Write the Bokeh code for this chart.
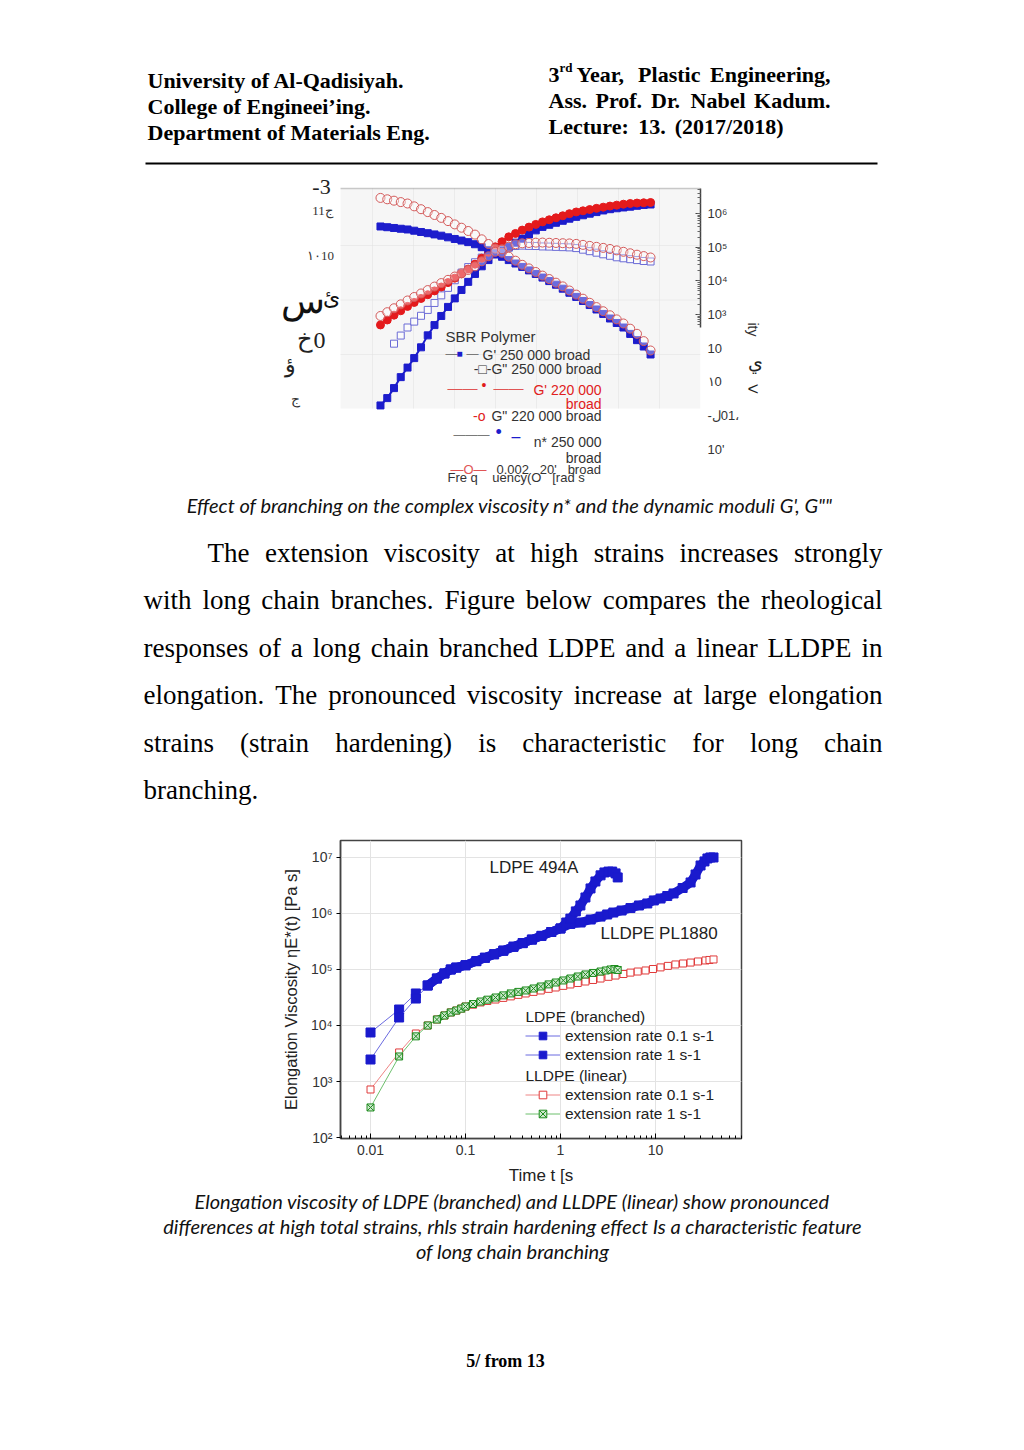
from bokeh.plotting import figure
from bokeh.models import (Range1d, Label, Legend, LegendItem, FixedTicker, BoxAnnotation,
                          LogAxis, CustomJSTickFormatter)
from bokeh.embed import file_html
from bokeh.resources import INLINE
from bokeh.core.properties import value

W = 1024

# ---------------- page texts ----------------
header_left = ["University of Al-Qadisiyah.", "College of Engineei\u2019ing.",
               "Department of Materials Eng."]
header_right_1 = ["Year,", "Plastic", "Engineering,"]
header_right_2 = ["Ass.", "Prof.", "Dr.", "Nabel", "Kadum."]
header_right_3 = ["Lecture:", "13.", "(2017/2018)"]
caption1 = "Effect of branching on the complex viscosity n* and the dynamic moduli G', G\"\""
body_lines = [
    "The extension viscosity at high strains increases strongly",
    "with long chain branches. Figure below compares the rheological",
    "responses of a long chain branched LDPE and a linear LLDPE in",
    "elongation. The pronounced viscosity increase at large elongation",
    "strains (strain hardening) is characteristic for long chain",
    "branching.",
]
caption2 = [
    "Elongation viscosity of LDPE (branched) and LLDPE (linear) show pronounced",
    "differences at high total strains, rhls strain hardening effect Is a characteristic feature",
    "of long chain branching",
]
footer = "5/ from 13"

# ---------------- chart 1 data (SBR polymer, frequency sweep) ----------------
omega = [0.00313, 0.00458, 0.00669, 0.00977, 0.0143, 0.0208, 0.0305, 0.0445, 0.0650, 0.0950,
         0.139, 0.203, 0.296, 0.432, 0.632, 0.923, 1.35, 1.97, 2.88, 4.21,
         6.15, 8.98, 13.1, 19.2, 28.0, 40.9, 59.7, 87.3, 127, 186,
         272, 397, 581, 849, 1240, 1810, 2640, 3860, 5650, 8240, 12100]
g1_220 = [489, 687, 955, 1290, 1740, 2280, 2990, 3870, 5020, 6560,
          8870, 1.20e4, 1.62e4, 2.23e4, 3.12e4, 4.70e4, 7.05e4, 1.02e5, 1.45e5, 2.02e5,
          2.55e5, 3.21e5, 3.94e5, 4.74e5, 5.63e5, 6.50e5, 7.45e5, 8.55e5, 9.87e5, 1.11e6,
          1.20e6, 1.31e6, 1.42e6, 1.54e6, 1.66e6, 1.77e6, 1.89e6, 1.98e6, 2.04e6, 2.08e6, 2.12e6]
g1_250 = [1.99, 3.29, 6.52, 13.8, 26.5, 50.7, 106, 240, 484, 904,
          1680, 3010, 5350, 9310, 1.60e4, 2.70e4, 4.13e4, 6.05e4, 7.91e4, 1.03e5,
          1.36e5, 1.80e5, 2.38e5, 3.15e5, 4.00e5, 4.61e5, 5.30e5, 6.07e5, 7.01e5, 7.93e5,
          8.85e5, 9.87e5, 1.10e6, 1.23e6, 1.34e6, 1.43e6, 1.51e6, 1.59e6, 1.69e6, 1.79e6, 1.85e6]
eta_250 = [4.11e5, 3.91e5, 3.71e5, 3.52e5, 3.35e5, 3.08e5, 2.82e5, 2.60e5, 2.39e5, 2.19e5,
           1.96e5, 1.75e5, 1.57e5, 1.41e5, 1.22e5, 9.98e4, 8.07e4, 6.53e4, 5.18e4, 4.13e4,
           3.27e4, 2.59e4, 2.04e4, 1.60e4, 1.25e4, 9820, 7670, 5840, 4420, 3330,
           2520, 1910, 1410, 1040, 760, 560, 411, 265, 173, 112, 64.9]
eta_220 = [2.90e6, 2.64e6, 2.40e6, 2.18e6, 1.98e6, 1.63e6, 1.34e6, 1.10e6, 9.02e5, 7.40e5,
           5.94e5, 4.74e5, 3.78e5, 3.02e5, 2.36e5, 1.71e5, 1.24e5, 9.08e4, 6.85e4, 5.21e4,
           3.96e4, 2.99e4, 2.34e4, 1.83e4, 1.43e4, 1.13e4, 8810, 6840, 5160, 3900,
           2950, 2230, 1660, 1250, 948, 716, 541, 379, 267, 162, 85.3]
g2_220 = [904, 1170, 1530, 2000, 2610, 3310, 4210, 5310, 6750, 8570,
          1.07e4, 1.34e4, 1.67e4, 2.10e4, 2.69e4, 3.80e4, 5.36e4, 7.28e4, 8.65e4, 1.03e5,
          1.22e5, 1.30e5, 1.33e5, 1.36e5, 1.37e5, 1.35e5, 1.33e5, 1.31e5, 1.29e5, 1.25e5,
          1.17e5, 1.09e5, 1.02e5, 9.51e4, 8.83e4, 8.02e4, 7.28e4, 6.58e4, 5.97e4, 5.43e4, 4.93e4]
omega_g2_250 = omega[2:]
g2_250 = [136, 237, 411, 615, 916, 1370, 2200, 3700,
          6170, 1.04e4, 1.75e4, 2.56e4, 3.56e4, 4.90e4, 6.62e4, 7.48e4, 8.47e4, 9.57e4,
          1.08e5, 1.11e5, 1.09e5, 1.08e5, 1.05e5, 1.04e5, 1.02e5, 1.00e5, 9.84e4, 9.38e4,
          8.41e4, 7.59e4, 6.85e4, 6.14e4, 5.54e4, 5.00e4, 4.67e4, 4.39e4, 4.13e4, 3.88e4, 3.75e4]
# right-hand axis ticks of chart 1 (garbled lower labels as printed)
c1_right_ticks = [1e6, 1e5, 1e4, 1e3, 100, 10, 1, 0.1]
c1_extra_ticks = [37.6, 6.35]

# ---------------- chart 2 data (elongation viscosity) ----------------
t_ldpe01 = [0.01, 0.02, 0.03, 0.04, 0.05, 0.06, 0.07, 0.08,
            0.1, 0.13, 0.16, 0.2, 0.25, 0.32, 0.4, 0.5, 0.63, 0.8, 1.0,
            1.27, 1.63, 2.08, 2.64, 3.1, 3.6, 4.4, 5.45, 6.7, 8.2, 9.6, 11.3, 13.3, 15.5,
            19.3, 23.4, 26.4, 29.8, 32.8, 35.2, 37.8, 40.8]
eta_ldpe01 = [7.5e3, 1.93e4, 3.73e4, 5.18e4, 6.9e4, 8.5e4, 1.0e5, 1.08e5,
              1.19e5, 1.41e5, 1.62e5, 1.87e5, 2.17e5, 2.55e5, 2.96e5, 3.42e5, 3.98e5, 4.67e5, 5.4e5,
              6.5e5, 6.9e5, 7.8e5, 8.8e5, 9.6e5, 1.04e6, 1.13e6, 1.25e6, 1.39e6, 1.51e6, 1.71e6,
              1.85e6, 2.05e6, 2.28e6, 2.85e6, 3.58e6, 4.97e6, 7.2e6, 8.5e6, 9.6e6, 1.0e7, 1.0e7]
t_ldpe1 = [0.01, 0.02, 0.03, 0.04, 0.05, 0.06, 0.07, 0.08,
           0.1, 0.13, 0.16, 0.2, 0.25, 0.32, 0.4, 0.5, 0.63, 0.8, 1.0,
           1.15, 1.27, 1.45, 1.62, 1.83, 2.07, 2.33, 2.64, 2.9, 3.2, 3.5, 3.8, 4.0]
eta_ldpe1 = [2.47e3, 1.39e4, 3.03e4, 5.18e4, 6.9e4, 8.5e4, 1.0e5, 1.08e5,
             1.19e5, 1.41e5, 1.62e5, 1.87e5, 2.17e5, 2.55e5, 2.96e5, 3.42e5, 3.98e5, 4.67e5, 5.4e5,
             6.9e5, 8.1e5, 1.09e6, 1.39e6, 1.93e6, 2.8e6, 3.73e6, 4.8e6, 5.4e6, 5.6e6, 5.6e6,
             5.2e6, 4.4e6]
t_lldpe1 = [0.01, 0.02, 0.03, 0.04, 0.05, 0.06, 0.07, 0.08, 0.09, 0.1,
            0.12, 0.144, 0.17, 0.207, 0.25, 0.3, 0.36, 0.43, 0.52, 0.62, 0.75,
            0.89, 1.07, 1.27, 1.52, 1.83, 2.2, 2.64, 3.0, 3.36, 3.7, 4.0]
eta_lldpe1 = [344, 2.8e3, 6.4e3, 1.0e4, 1.28e4, 1.51e4, 1.71e4, 1.85e4, 2.0e4, 2.18e4,
              2.42e4, 2.68e4, 2.89e4, 3.16e4, 3.45e4, 3.74e4, 3.98e4, 4.22e4, 4.58e4, 4.97e4,
              5.42e4, 5.86e4, 6.37e4, 6.9e4, 7.5e4, 8.15e4, 8.67e4, 9.2e4, 9.6e4, 1.0e5,
              1.02e5, 9.8e4]
t_lldpe01 = [0.01, 0.02, 0.03, 0.04, 0.05, 0.06, 0.07, 0.08, 0.09, 0.1,
             0.12, 0.144, 0.17, 0.207, 0.25, 0.3, 0.36, 0.43, 0.52, 0.62, 0.75,
             0.89, 1.07, 1.27, 1.52, 1.83, 2.2, 2.64, 3.2, 3.8, 4.6, 5.45, 6.5,
             7.85, 9.4, 11.3, 13.5, 16.2, 19.5, 23.4, 28, 33.6, 37, 40.8]
eta_lldpe01 = [720, 3.3e3, 7.2e3, 1.0e4, 1.28e4, 1.51e4, 1.71e4, 1.85e4, 2.0e4, 2.18e4,
               2.35e4, 2.58e4, 2.74e4, 2.91e4, 3.11e4, 3.31e4, 3.52e4, 3.73e4, 3.98e4, 4.22e4,
               4.51e4, 4.77e4, 5.1e4, 5.4e4, 5.74e4, 6.1e4, 6.5e4, 6.9e4, 7.4e4, 7.8e4,
               8.3e4, 8.8e4, 9.2e4, 9.6e4, 1.02e5, 1.09e5, 1.16e5, 1.23e5, 1.28e5, 1.33e5,
               1.39e5, 1.45e5, 1.48e5, 1.51e5]
legend2_labels = ["extension rate 0.1 s-1", "extension rate 1 s-1"]

# ---------------- font metrics for justification (Times / Liberation Serif) ----------------
def _table(upper, lower, extra):
    d = {}
    for c, w in zip("ABCDEFGHIJKLMNOPQRSTUVWXYZ", upper):
        d[c] = w
    for c, w in zip("abcdefghijklmnopqrstuvwxyz", lower):
        d[c] = w
    d.update(extra)
    return d

TR = _table([722, 667, 667, 722, 611, 556, 722, 722, 333, 389, 722, 611, 889, 722, 722, 556, 722,
             667, 556, 611, 722, 722, 944, 722, 722, 611],
            [444, 500, 444, 500, 444, 333, 500, 500, 278, 278, 500, 278, 778, 500, 500, 500, 500,
             333, 389, 278, 500, 500, 722, 500, 500, 444],
            {" ": 250, ".": 250, ",": 250, "(": 333, ")": 333, "-": 333, ":": 278, "'": 180, "*": 500})
TB = _table([722, 667, 722, 722, 667, 611, 778, 778, 389, 500, 778, 667, 944, 722, 778, 611, 778,
             722, 556, 667, 722, 722, 1000, 722, 722, 667],
            [500, 556, 444, 556, 444, 333, 500, 556, 278, 333, 556, 278, 833, 556, 500, 556, 556,
             444, 389, 333, 556, 500, 722, 500, 500, 444],
            {" ": 250, ".": 250, ",": 250, "(": 333, ")": 333, "-": 333, ":": 333, "/": 278})


def twidth(s, size, table):
    return sum(table.get(c, 500) for c in s) * size / 1000.0


def justify(words, x0, x1, size, table):
    ws = [twidth(w, size, table) for w in words]
    gap = (x1 - x0 - sum(ws)) / max(1, len(words) - 1)
    xs, x = [], x0
    for w in ws:
        xs.append(x)
        x += w + gap
    return xs


SERIF = "Liberation Serif"
SANS = "Liberation Sans"
NB = "\u00a0"


def page_section(y0, y1):
    p = figure(width=W, height=y1 - y0, x_range=Range1d(0, W), y_range=Range1d(y1, y0),
               output_backend="svg", toolbar_location=None, x_axis_location=None,
               y_axis_location=None, min_border=0, background_fill_color="white",
               border_fill_color="white")
    p.xgrid.visible = False
    p.ygrid.visible = False
    p.outline_line_color = None
    return p


def add_text(p, xs, ys, texts, font, size, style="normal", align="left", color="black"):
    p.text(x=xs, y=ys, text=texts, text_font=value(font), text_font_size=value(f"{size}px"),
           text_font_style=style, text_align=align, text_baseline="middle", text_color=color)


# ---------------- section 1 : header ----------------
s1 = page_section(0, 170)
add_text(s1, [147, 147, 147], [80, 106, 132], header_left, SERIF, 22, style="bold")
add_text(s1, [548], [74], ["3"], SERIF, 22, style="bold")
add_text(s1, [559], [67], ["rd"], SERIF, 13, style="bold")
xs = justify(header_right_1, 576, 830, 22, TB)
add_text(s1, xs, [74] * len(xs), header_right_1, SERIF, 22, style="bold")
xs = justify(header_right_2, 548, 830, 22, TB)
add_text(s1, xs, [100] * len(xs), header_right_2, SERIF, 22, style="bold")
xs = justify(header_right_3, 548, 783, 22, TB)
add_text(s1, xs, [126] * len(xs), header_right_3, SERIF, 22, style="bold")
s1.segment(x0=[145], y0=[163], x1=[877], y1=[163], line_color="black", line_width=2)

# ---------------- chart 1 ----------------
F1L, F1B = 280, 488
X1_LO, X1_HI = 3.32e-4, 2.0e5      # plotting box (gray area) in data units
Y1_LO, Y1_HI = 1.62, 5.52e6
p1 = figure(width=W, height=318, x_axis_type="log", y_axis_type="log",
            x_range=Range1d(1.14e-5, 2.0e5), y_range=Range1d(6.8e-3, 1.89e7),
            x_axis_location=None, y_axis_location="right",
            output_backend="svg", toolbar_location=None,
            min_border_left=280, min_border_right=324, min_border_top=0, min_border_bottom=0,
            background_fill_color="white", border_fill_color="white")
p1.outline_line_color = None
p1.xgrid.visible = False
p1.ygrid.visible = False
p1.add_layout(BoxAnnotation(left=X1_LO, right=X1_HI, bottom=Y1_LO, top=Y1_HI,
                            fill_color="#f6f6f6", fill_alpha=1.0, line_color=None,
                            level="underlay"))
for gx in [0.002, 0.02, 0.2, 2, 20, 200, 2000, 20000]:
    p1.add_layout(BoxAnnotation(left=gx, right=gx, bottom=Y1_LO, top=Y1_HI, fill_alpha=0.0,
                                line_color="#e2e2e2", line_width=1, level="underlay"))
for gy in [1.12e5, 2.70e3, 64.9]:
    p1.add_layout(BoxAnnotation(left=X1_LO, right=X1_HI, bottom=gy, top=gy, fill_alpha=0.0,
                                line_color="#e2e2e2", line_width=1, level="underlay"))
p1.add_layout(BoxAnnotation(left=X1_LO, right=X1_HI, bottom=Y1_HI, top=Y1_HI, fill_alpha=0.0,
                            line_color="#555555", line_width=1.5))

sup_js = """
const e = Math.round(Math.log10(tick));
const m = {'-':'\u207b','0':'\u2070','1':'\u00b9','2':'\u00b2','3':'\u00b3','4':'\u2074',
           '5':'\u2075','6':'\u2076','7':'\u2077','8':'\u2078','9':'\u2079'};
return '10' + String(e).split('').map(c => m[c]).join('');
"""
right_js = """
const e = Math.round(Math.log10(tick));
const g = {2: '10', 1: '\u06610', 0: '-\u0644\u200e01\u060c', '-1': "10'"};
if (e <= 2) { return g[e]; }
const m = {'0':'\u2070','1':'\u00b9','2':'\u00b2','3':'\u00b3','4':'\u2074',
           '5':'\u2075','6':'\u2076','7':'\u2077','8':'\u2078','9':'\u2079'};
return '10' + String(e).split('').map(c => m[c]).join('');
"""
extra_js = """
return tick > 20 ? '\u064a' : '<';
"""
dec_js = """
const e = Math.round(Math.log10(tick));
if (e >= 0) { return String(Math.round(Math.pow(10, e))); }
return '0.' + '0'.repeat(-e - 1) + '1';
"""
# inner right axis: line and ticks only
ya = p1.yaxis[0]
ya.formatter = CustomJSTickFormatter(code="return '';")
ya.bounds = (411, Y1_HI)
ya.axis_line_color = "#444444"
ya.axis_line_width = 1.5
ya.major_tick_in = 5
ya.major_tick_out = 0
ya.minor_tick_in = 3
ya.minor_tick_out = 0
ya.major_tick_line_color = "#444444"
ya.minor_tick_line_color = "#666666"
ya.major_label_standoff = 0
# labels axis
ax_b = LogAxis(ticker=FixedTicker(ticks=c1_right_ticks), formatter=CustomJSTickFormatter(code=right_js),
               axis_line_color=None, major_tick_line_color=None, minor_tick_line_color=None,
               major_tick_in=0, major_tick_out=0, minor_tick_in=0, minor_tick_out=0,
               major_label_standoff=7, major_label_text_font=SANS,
               major_label_text_font_size="13px", major_label_text_color="#333333",
               axis_label="ity", axis_label_standoff=3, axis_label_text_font=SANS,
               axis_label_text_font_size="14px", axis_label_text_font_style="normal",
               axis_label_text_color="#333333")
p1.add_layout(ax_b, "right")
ax_c = LogAxis(ticker=FixedTicker(ticks=c1_extra_ticks), formatter=CustomJSTickFormatter(code=extra_js),
               axis_line_color=None, major_tick_line_color=None, minor_tick_line_color=None,
               major_tick_in=0, major_tick_out=0, minor_tick_in=0, minor_tick_out=0,
               major_label_standoff=-17, major_label_text_font=SANS,
               major_label_text_font_size="19px", major_label_text_color="#222222")
p1.add_layout(ax_c, "right")

BLUE1 = "#1c1ccc"
p1.scatter(omega_g2_250, g2_250, marker="square", size=7, line_color="#6b6bd6",
           fill_color="white", fill_alpha=0.6, line_width=1)
p1.line(omega, g1_250, line_color=BLUE1, line_width=2)
p1.scatter(omega, g1_250, marker="square", size=7, color=BLUE1)
p1.line(omega, g1_220, line_color="#e41a1c", line_width=2)
p1.scatter(omega, g1_220, marker="circle", size=8, color="#e41a1c")
p1.line(omega, eta_250, line_color=BLUE1, line_width=3)
p1.scatter(omega, eta_250, marker="square", size=7, color=BLUE1)
p1.scatter(omega, eta_220, marker="circle", size=9, line_color="#d45a5a", fill_color="white",
           fill_alpha=0.35, line_width=1)
p1.scatter(omega, g2_220, marker="circle", size=9, line_color="#d45a5a", fill_color="white",
           fill_alpha=0.35, line_width=1)


def lab(p, fl, fb, text, px, py, size, color="#333333", font=SANS, align="left", angle=0.0,
        style="normal"):
    p.add_layout(Label(x=px - fl, y=fb - py, x_units="screen", y_units="screen", text=text,
                       text_font=font, text_font_size=f"{size}px", text_color=color,
                       text_align=align, text_baseline="middle", angle=angle,
                       text_font_style=style))


RED_T = "#e02020"
RED_L = "#e05555"
GRAY_L = "#7a7a7a"
chart1_texts = [
    # left margin fragments
    ("-3", 321, 186, 22, "#222222", SERIF, "center"),
    ("11\u062c", 322, 210, 13, "#333333", SERIF, "center"),
    ("\u0661\u066010", 320, 255, 13, "#333333", SERIF, "center"),
    ("\u0633", 302, 300, 36, "#111111", SERIF, "center"),
    ("\u0626", 331, 297, 22, "#111111", SERIF, "center"),
    ("\u062e", 304, 338, 24, "#222222", SERIF, "center"),
    ("0", 319, 340, 24, "#222222", SERIF, "center"),
    ("\u0624", 290, 364, 22, "#222222", SERIF, "center"),
    ("\u062c", 295, 399, 14, "#333333", SERIF, "center"),
    # legend
    ("SBR Polymer", 445, 336, 15, "#333333", SANS, "left"),
    ("\u2014", 445, 353, 12, GRAY_L, SANS, "left"),
    ("\u25a0", 456, 353, 10, BLUE1, SANS, "left"),
    ("\u2014", 466, 353, 12, GRAY_L, SANS, "left"),
    ("G' 250 000 broad", 482, 354, 14, "#333333", SANS, "left"),
    ("-\u25a1-G\" 250 000 broad", 601, 368, 14, "#333333", SANS, "right"),
    ("\u2014\u2014", 447, 387, 15, RED_L, SANS, "left"),
    ("\u2022", 481, 384, 14, "#e01b1b", SANS, "left"),
    ("\u2014\u2014", 493, 387, 15, RED_L, SANS, "left"),
    ("G' 220 000", 601, 389, 14, RED_T, SANS, "right"),
    ("broad", 601, 403, 14, RED_T, SANS, "right"),
    ("-o", 485, 415, 14, RED_T, SANS, "right"),
    ("G\" 220 000 broad", 601, 415, 14, "#333333", SANS, "right"),
    ("\u2014\u2014\u2014", 453, 434, 12, GRAY_L, SANS, "left"),
    ("\u2022", 495, 431, 18, BLUE1, SANS, "left"),
    ("\u2013", 511, 436, 16, BLUE1, SANS, "left"),
    ("n* 250 000", 601, 441, 14, "#333333", SANS, "right"),
    ("broad", 601, 457, 14, "#333333", SANS, "right"),
    ("\u2014O\u2014", 450, 469, 13, RED_L, SANS, "left"),
    ("Fre q" + NB * 4 + "uency(O" + NB * 3 + "[rad s", 447, 477, 13, "#333333", SANS, "left"),
    ("0.002" + NB * 3 + "20'" + NB * 3 + "broad", 496, 469, 13, "#333333", SANS, "left"),
]
for (tx, px, py, sz, col, fnt, al) in chart1_texts:
    lab(p1, F1L, F1B, tx, px, py, sz, color=col, font=fnt, align=al)

# ---------------- section 3 : caption 1 + body ----------------
s3 = page_section(488, 830)
add_text(s3, [509.5], [504], [caption1], "Lato", 20, style="italic", align="center",
         color="#111111")
BODY_SIZE = 27
body_centers = [552, 599, 647, 694, 742, 789]
bx, by, bt = [], [], []
for i, line in enumerate(body_lines):
    words = line.split(" ")
    if i == len(body_lines) - 1:
        xs = [143]
        words = [line]
    else:
        xs = justify(words, 207 if i == 0 else 143, 882, BODY_SIZE, TR)
    bx += xs
    by += [body_centers[i]] * len(xs)
    bt += words
add_text(s3, bx, by, bt, SERIF, BODY_SIZE)

# ---------------- chart 2 ----------------
F2L, F2B = 340, 1138
p2 = figure(width=W, height=358, x_axis_type="log", y_axis_type="log",
            x_range=Range1d(4.83e-3, 80.4), y_range=Range1d(96, 2.01e7),
            output_backend="svg", toolbar_location=None,
            min_border_left=340, min_border_right=283, min_border_top=10, min_border_bottom=50,
            background_fill_color="white", border_fill_color="white")
p2.outline_line_color = "#444444"
p2.outline_line_width = 1.5
p2.xgrid.grid_line_color = "#e3e3e3"
p2.ygrid.grid_line_color = "#e3e3e3"
xa = p2.xaxis[0]
xa.formatter = CustomJSTickFormatter(code=dec_js)
xa.major_label_text_font = SANS
xa.major_label_text_font_size = "14px"
xa.major_label_text_color = "#333333"
xa.major_tick_in = 5
xa.major_tick_out = 0
xa.minor_tick_in = 3
xa.minor_tick_out = 0
xa.axis_line_color = "#444444"
xa.axis_line_width = 1.5
xa.major_label_standoff = 6
xa.axis_label = "Time t [s"
xa.axis_label_text_font = SANS
xa.axis_label_text_font_size = "17px"
xa.axis_label_text_font_style = "normal"
xa.axis_label_text_color = "#222222"
xa.axis_label_standoff = 8
ya2 = p2.yaxis[0]
ya2.formatter = CustomJSTickFormatter(code=sup_js)
ya2.major_label_text_font = SANS
ya2.major_label_text_font_size = "14px"
ya2.major_label_text_color = "#333333"
ya2.major_tick_in = 0
ya2.major_tick_out = 4
ya2.minor_tick_line_color = None
ya2.axis_line_color = "#444444"
ya2.axis_line_width = 1.5
ya2.major_label_standoff = 4
ya2.axis_label = "Elongation Viscosity \u03b7E*(t) [Pa s]"
ya2.axis_label_text_font = SANS
ya2.axis_label_text_font_size = "16.5px"
ya2.axis_label_text_font_style = "normal"
ya2.axis_label_text_color = "#222222"
ya2.axis_label_standoff = 8

BLUE2 = "#1a1acd"
r_red_l = p2.line(t_lldpe01, eta_lldpe01, line_color="#ee8585", line_width=1)
r_red_s = p2.scatter(t_lldpe01, eta_lldpe01, marker="square", size=7, line_color="#e03a3a",
                     fill_color="white", line_width=1)
r_grn_l = p2.line(t_lldpe1, eta_lldpe1, line_color="#6cbf6c", line_width=1)
p2.line(t_lldpe1[4:], eta_lldpe1[4:], line_color="#1e8c1e", line_width=6, line_join="round")
r_grn_s = p2.scatter(t_lldpe1, eta_lldpe1, marker="square_x", size=7, line_color="#1e8c1e",
                     fill_color="#cfe8cf", line_width=1)
r_b01_l = p2.line(t_ldpe01, eta_ldpe01, line_color="#6a6ae0", line_width=1)
p2.line(t_ldpe01[3:], eta_ldpe01[3:], line_color=BLUE2, line_width=9, line_join="round")
r_b01_s = p2.scatter(t_ldpe01, eta_ldpe01, marker="square", size=9, color=BLUE2)
r_b1_l = p2.line(t_ldpe1, eta_ldpe1, line_color="#6a6ae0", line_width=1)
p2.line(t_ldpe1[3:], eta_ldpe1[3:], line_color=BLUE2, line_width=9, line_join="round")
r_b1_s = p2.scatter(t_ldpe1, eta_ldpe1, marker="square", size=9, color=BLUE2)


def make_legend(items, loc):
    lg = Legend(items=items, location=loc, border_line_color=None, background_fill_alpha=0.0,
                padding=0, margin=0, spacing=0, glyph_width=35, glyph_height=19,
                label_height=19, label_standoff=5, label_text_font=SANS,
                label_text_font_size="15.5px", label_text_color="#222222")
    p2.add_layout(lg)


make_legend([LegendItem(label=legend2_labels[0], renderers=[r_b01_l, r_b01_s]),
             LegendItem(label=legend2_labels[1], renderers=[r_b1_l, r_b1_s])], (185, 74))
make_legend([LegendItem(label=legend2_labels[0], renderers=[r_red_l, r_red_s]),
             LegendItem(label=legend2_labels[1], renderers=[r_grn_l, r_grn_s])], (185, 15))

chart2_texts = [
    ("LDPE 494A", 489, 867, 17),
    ("LLDPE PL1880", 600, 933, 17),
    ("LDPE (branched)", 525, 1016, 15.5),
    ("LLDPE (linear)", 525, 1075, 15.5),
]
for (tx, px, py, sz) in chart2_texts:
    lab(p2, F2L, F2B, tx, px, py, sz, color="#222222")

# ---------------- section 5 : caption 2 + footer ----------------
s5 = page_section(1188, 1450)
add_text(s5, [512, 512, 512], [1200, 1225, 1250], caption2, "Lato", 20, style="italic",
         align="center", color="#111111")
add_text(s5, [505], [1360], [footer], SERIF, 18, style="bold", align="center")

# separate roots (stacked blocks) so that plot frames are not aligned with each other
open("out.html", "w").write(file_html([s1, p1, s3, p2, s5], INLINE))
